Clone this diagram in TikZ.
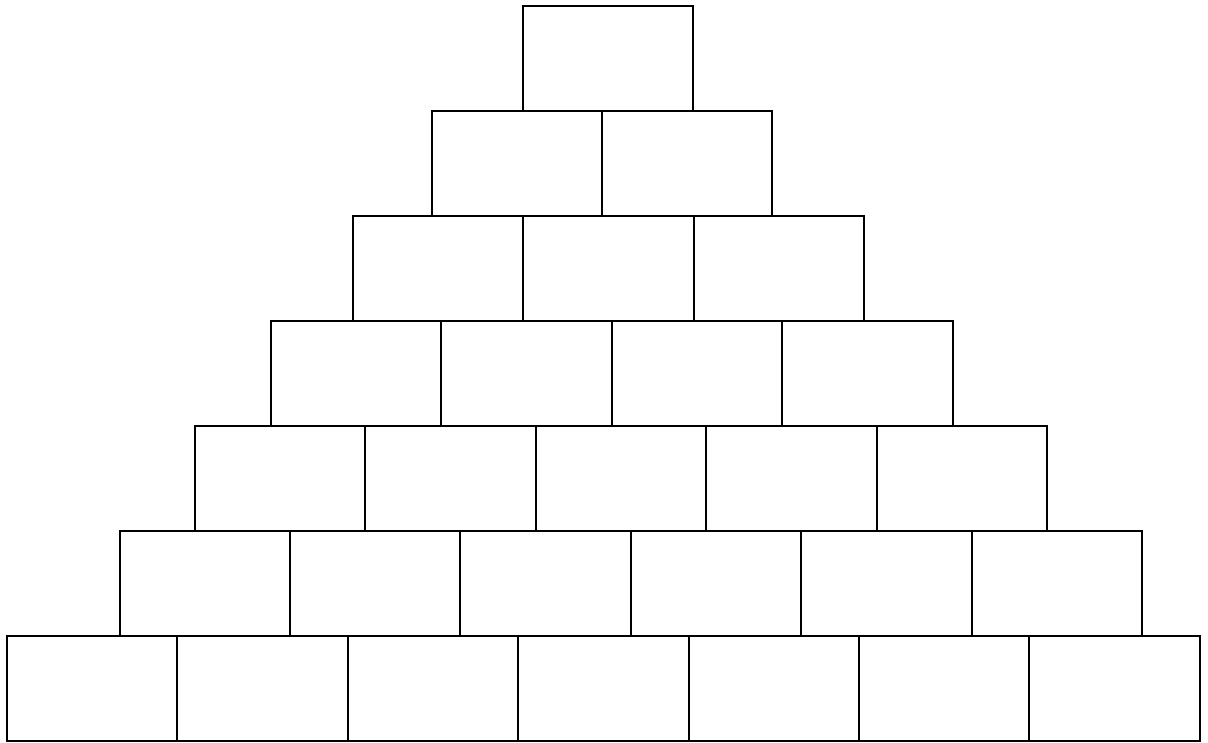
\documentclass[tikz,border=0pt]{standalone}
\begin{document}
\begin{tikzpicture}[x=1pt,y=-1pt,
  brick/.style={draw=black,line width=2pt,rectangle,inner sep=0pt,outer sep=0pt,
    minimum width=170.4pt,minimum height=105.1pt,anchor=north west}]
\useasboundingbox (0,0) rectangle (1208,742);
\def\bh{105.14}
\def\bw{170.4}
\foreach \r/\x/\n in {1/523/1,2/431.5/2,3/353/3,4/271/4,5/195/5,6/119.5/6,7/7/7}{
  \foreach \i in {1,...,\n}{
    \node[brick] (b\r-\i) at ({\x+(\i-1)*\bw},{5.5+(\r-1)*\bh}) {};
  }
}
\end{tikzpicture}
\end{document}
